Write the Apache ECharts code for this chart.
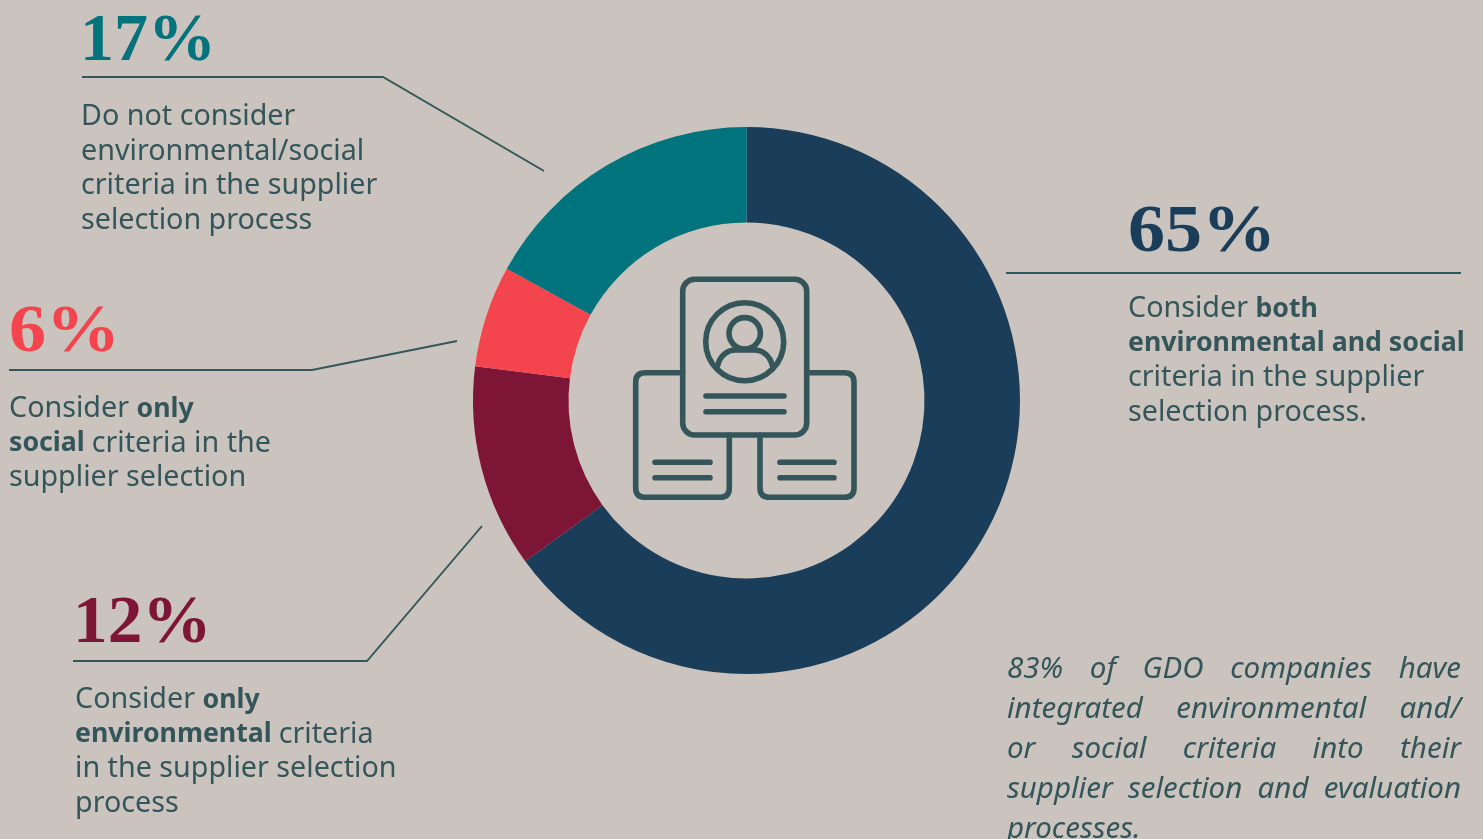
<!DOCTYPE html>
<html>
<head>
<meta charset="utf-8">
<style>html,body{margin:0;padding:0;background:#cbc3bd;overflow:hidden}#chart{width:1483px;height:839px}</style>
<script src="https://cdn.jsdelivr.net/npm/echarts@6/dist/echarts.min.js"></script>
</head>
<body>
<div id="chart"></div>
<script>
// Share of companies by supplier selection criteria
const categories = ['Both environmental and social', 'Only environmental', 'Only social', 'Neither'];
const shares = [65, 12, 6, 17];
const captionLines = [
  ['{r|Consider }{b|both}', '{b|environmental and social}', '{r|criteria in the supplier}', '{r|selection process.}'],
  ['{r|Consider }{b|only}', '{b|environmental }{r|criteria}', '{r|in the supplier selection}', '{r|process}'],
  ['{r|Consider }{b|only}', '{b|social }{r|criteria in the}', '{r|supplier selection}'],
  ['{r|Do not consider}', '{r|environmental/social}', '{r|criteria in the supplier}', '{r|selection process}']
];
const noteLines = [
  ['83%', 'of', 'GDO', 'companies', 'have'],
  ['integrated', 'environmental', 'and/'],
  ['or', 'social', 'criteria', 'into', 'their'],
  ['supplier', 'selection', 'and', 'evaluation'],
  ['processes.']
];

const sliceColors = ['#1a3e59', '#7d1537', '#f4454f', '#00737c'];
const ink = '#34565b';
const bodyFont = '"Noto Sans"';

// Layout of each slice's annotation, in slice order
const percentLayout = [
  {x: 1128, y: 233, stretch: 1.09},
  {x: 73, y: 624, stretch: 1.02},
  {x: 9, y: 333, stretch: 1.09},
  {x: 80, y: 42, stretch: 1}
];
const captionLayout = [
  {x: 1128, y: 309},
  {x: 75, y: 700},
  {x: 9, y: 409},
  {x: 81, y: 117}
];
const leaderLines = [
  [[1006, 273], [1461, 273]],
  [[73, 661], [367, 661], [482, 526]],
  [[9, 370], [312, 370], [457, 341]],
  [[82, 77], [383, 77], [544, 171]]
];

const elements = [];

shares.forEach((share, i) => elements.push({
  type: 'text', x: percentLayout[i].x, y: percentLayout[i].y, scaleX: percentLayout[i].stretch, silent: true,
  style: {text: share + '%', fill: sliceColors[i], font: 'bold 68px "Liberation Serif"', textVerticalAlign: 'middle', textAlign: 'left'}
}));

captionLines.forEach((lines, c) => lines.forEach((line, i) => elements.push({
  type: 'text', x: captionLayout[c].x, y: captionLayout[c].y + i * 34.6, silent: true,
  style: {
    text: line, textVerticalAlign: 'middle', textAlign: 'left',
    rich: {
      r: {font: `28.7px ${bodyFont}`, fill: ink},
      b: {font: `bold 26.7px ${bodyFont}`, fill: ink}
    }
  }
})));

leaderLines.forEach(points => elements.push({
  type: 'polyline', silent: true,
  shape: {points},
  style: {stroke: ink, lineWidth: 1.9, fill: 'none'}
}));

// Justified italic note, set word by word
const noteFont = `italic 29.5px ${bodyFont}`;
const ruler = document.createElement('canvas').getContext('2d');
ruler.font = noteFont;
const noteLeft = 1007, noteRight = 1461;
noteLines.forEach((words, row) => {
  const used = words.reduce((sum, w) => sum + ruler.measureText(w).width, 0);
  const justified = row < noteLines.length - 1;
  const gap = justified ? (noteRight - noteLeft - used) / (words.length - 1) : 0;
  let x = noteLeft;
  words.forEach(w => {
    elements.push({
      type: 'text', x, y: 670 + row * 40, silent: true,
      style: {text: w, font: noteFont, fill: ink, textVerticalAlign: 'middle', textAlign: 'left'}
    });
    x += ruler.measureText(w).width + gap;
  });
});

// Central icon: a profile sheet over two documents
const iconStroke = {stroke: ink, lineWidth: 5.6, fill: 'none', lineCap: 'round', lineJoin: 'round'};
const iconPaths = {
  iconLeftSheet: 'M682.7 372.7 L645 372.7 Q635.7 372.7 635.7 382 L635.7 488 Q635.7 497.3 645 497.3 L720 497.3 Q729.3 497.3 729.3 488 L729.3 435',
  iconRightSheet: 'M806.7 372.7 L844.7 372.7 Q854 372.7 854 382 L854 488 Q854 497.3 844.7 497.3 L769.3 497.3 Q760 497.3 760 488 L760 435',
  iconShoulders: 'M717.5 366 C720 355 728 350 735 350 L754 350 C762 350 770 355 772.5 366'
};
Object.keys(iconPaths).forEach(name => {
  echarts.graphic.registerShape(name, echarts.graphic.extendPath(iconPaths[name], {}));
  elements.push({type: name, silent: true, style: iconStroke});
});
elements.push({
  type: 'rect', silent: true,
  shape: {x: 682.7, y: 279.3, width: 124, height: 155.7, r: 12},
  style: iconStroke
});
[[744.7, 341.7, 39], [744.7, 333.3, 15.7]].forEach(([cx, cy, r]) => elements.push({
  type: 'circle', silent: true, shape: {cx, cy, r}, style: iconStroke
}));
[[706, 784, 396], [706, 784, 411.7], [655, 710, 462.3], [655, 710, 477.7], [780, 834, 462.3], [780, 834, 477.7]]
  .forEach(([x1, x2, y]) => elements.push({
    type: 'line', silent: true, shape: {x1, y1: y, x2, y2: y}, style: iconStroke
  }));

const chart = echarts.init(document.getElementById('chart'), null, {renderer: 'canvas'});
chart.setOption({
  backgroundColor: '#cbc3bd',
  animation: false,
  series: [{
    type: 'pie',
    center: [746.5, 400.5],
    radius: [178, 273.5],
    startAngle: 90,
    clockwise: true,
    silent: true,
    label: {show: false},
    labelLine: {show: false},
    data: categories.map((name, i) => ({name, value: shares[i], itemStyle: {color: sliceColors[i]}}))
  }],
  graphic: {elements}
});
</script>
</body>
</html>
